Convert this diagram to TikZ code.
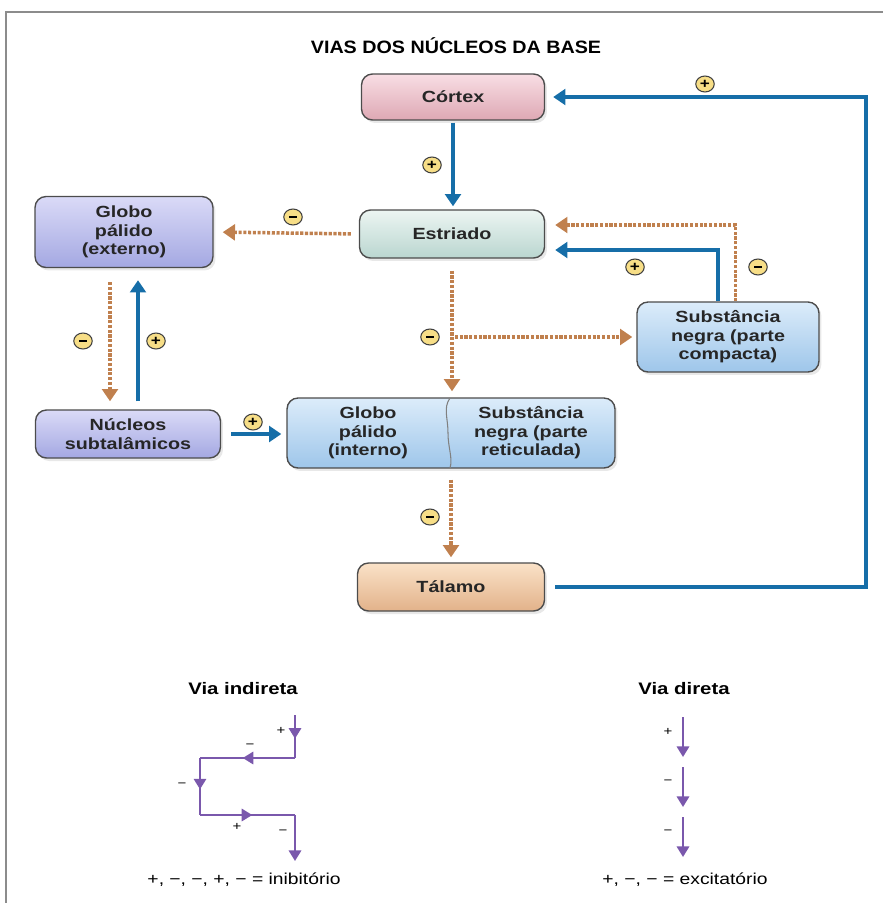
\documentclass[tikz,border=0pt]{standalone}
\usepackage{fontspec}
\setmainfont{Liberation Sans}[FakeStretch=1.22]
\newfontfamily\titlefont{Liberation Sans}[FakeStretch=1.1]
\usetikzlibrary{arrows.meta,calc,positioning,shapes.geometric,shadows,decorations.markings}

\definecolor{excblue}{RGB}{22,110,168}
\definecolor{inhorange}{RGB}{192,128,78}
\definecolor{legpurple}{RGB}{122,88,172}
\definecolor{signfill}{RGB}{247,222,135}
\definecolor{cortextop}{RGB}{248,222,228}
\definecolor{cortexbot}{RGB}{222,168,180}
\definecolor{striattop}{RGB}{236,245,242}
\definecolor{striatbot}{RGB}{186,214,208}
\definecolor{lilactop}{RGB}{218,218,247}
\definecolor{lilacbot}{RGB}{164,168,226}
\definecolor{skytop}{RGB}{220,236,250}
\definecolor{skybot}{RGB}{158,198,234}
\definecolor{thaltop}{RGB}{250,226,200}
\definecolor{thalbot}{RGB}{226,178,138}

\newcommand{\minusbar}{\rule{4.5pt}{1.2pt}}

\begin{document}
\begin{tikzpicture}[x=0.02cm,y=-0.02cm,
	% Styles
	box/.style={rectangle, rounded corners=2.2mm, draw=black!70, line width=0.8pt, align=center, text=black!85, font=\fontsize{9.2}{10.6}\selectfont\bfseries, drop shadow={opacity=0.18, shadow xshift=0.5mm, shadow yshift=-0.6mm}},
	cortexbox/.style={box, top color=cortextop, bottom color=cortexbot},
	striatbox/.style={box, top color=striattop, bottom color=striatbot},
	lilacbox/.style={box, top color=lilactop, bottom color=lilacbot},
	skybox/.style={box, top color=skytop, bottom color=skybot},
	thalbox/.style={box, top color=thaltop, bottom color=thalbot},
	boxtext/.style={align=center, text=black!85, font=\fontsize{9.2}{10.6}\selectfont\bfseries},
	sgn/.style={ellipse, draw=black!75, fill=signfill, line width=0.6pt, minimum width=0.37cm, minimum height=0.32cm, inner sep=0pt, font=\fontsize{8}{8}\selectfont\bfseries},
	exc/.style={draw=excblue, line width=2pt, -{Triangle[length=7pt,width=9pt]}},
	inh/.style={draw=inhorange, line width=2pt, dash pattern=on 1.8pt off 0.9pt, -{Triangle[length=7pt,width=9pt]}},
	leg/.style={draw=legpurple, line width=1.3pt},
	midarrow/.style={postaction={decorate}, decoration={markings, mark=at position 0.55 with {\arrow[legpurple]{Triangle[length=6pt,width=7pt]}}}},
	endarrow/.style={-{Triangle[length=6pt,width=7pt]}},
	lsign/.style={font=\fontsize{7}{7}\selectfont, inner sep=0pt},
	legtitle/.style={font=\fontsize{9.5}{11}\selectfont\bfseries},
	legtext/.style={font=\fontsize{9}{11}\selectfont}
	]
	\useasboundingbox (0,0) rectangle (883,903);
	\draw[black!45, line width=0.8pt] (6,903) -- (6,12) -- (883,12);

	% Nodes
	\node at (456,46)	(title)	[font=\titlefont\fontsize{10.2}{12}\selectfont\bfseries] {VIAS DOS NÚCLEOS DA BASE};
	\node at (453,97)	(cortex)	[cortexbox, minimum width=3.66cm, minimum height=0.92cm] {Córtex};
	\node at (452,234)	(striatum)	[striatbox, minimum width=3.7cm, minimum height=0.96cm] {Estriado};
	\node at (124,232)	(gpe)	[lilacbox, minimum width=3.56cm, minimum height=1.42cm] {Globo\\pálido\\(externo)};
	\node at (128,434)	(nst)	[lilacbox, minimum width=3.7cm, minimum height=0.96cm] {Núcleos\\subtalâmicos};
	\node at (451,433)	(gpisnr)	[skybox, minimum width=6.56cm, minimum height=1.4cm] {};
	\node at (368,433)	(gpi)	[boxtext] {Globo\\pálido\\(interno)};
	\node at (531,433)	(snr)	[boxtext] {Substância\\negra (parte\\reticulada)};
	\node at (728,337)	(snc)	[skybox, minimum width=3.64cm, minimum height=1.4cm] {Substância\\negra (parte\\compacta)};
	\node at (451,587)	(thal)	[thalbox, minimum width=3.74cm, minimum height=0.96cm] {Tálamo};
	\draw[black!50, line width=0.6pt] (450,398) .. controls (443,408) and (448,418) .. (448,433) .. controls (448,448) and (453,458) .. (450,468);
	\coordinate (loop) at (866,340);
	\coordinate (branch) at (455,337);

	% Connections
	\draw[exc, shorten <=0.04cm, shorten >=0.06cm] (cortex.south) -- (cortex.south |- striatum.north);
	\draw[exc, shorten <=0.2cm, shorten >=0.16cm] (thal.east) -- (thal.east -| loop) |- (cortex.east);
	\draw[inh, shorten <=0.16cm, shorten >=0.18cm] (striatum.west) -- (gpe.east);
	\draw[inh, shorten <=0.24cm, shorten >=0.12cm] (striatum.south) -- (striatum.south |- gpisnr.north);
	\draw[inh, shorten >=0.08cm] (branch) -- (snc.west);
	\draw[exc, shorten >=0.2cm] ([xshift=-0.2cm]snc.north) |- ([yshift=-0.32cm]striatum.east);
	\draw[inh, shorten >=0.2cm] ([xshift=0.15cm]snc.north) |- ([yshift=0.18cm]striatum.east);
	\draw[inh, shorten <=0.28cm, shorten >=0.16cm] ([xshift=-0.28cm]gpe.south) -- ([xshift=-0.28cm]gpe.south |- nst.north);
	\draw[exc, shorten <=0.16cm, shorten >=0.24cm] ([xshift=0.28cm]gpe.south |- nst.north) -- ([xshift=0.28cm]gpe.south);
	\draw[exc, shorten <=0.2cm, shorten >=0.1cm] (nst.east) -- (nst.east -| gpisnr.west);
	\draw[inh, shorten <=0.22cm, shorten >=0.1cm] (gpisnr.south) -- (thal.north);

	% Signs
	\node at (432,165)	(s1)	[sgn] {+};
	\node at (705,84)	(s2)	[sgn] {+};
	\node at (293,217)	(s3)	[sgn] {\minusbar};
	\node at (430,337)	(s4)	[sgn] {\minusbar};
	\node at (635,267)	(s5)	[sgn] {+};
	\node at (758,267)	(s6)	[sgn] {\minusbar};
	\node at (83,341)	(s7)	[sgn] {\minusbar};
	\node at (156,341)	(s8)	[sgn] {+};
	\node at (253,422)	(s9)	[sgn] {+};
	\node at (430,517)	(s10)	[sgn] {\minusbar};

	% Legend: via indireta
	\node at (243,689)	(indtitle)	[legtitle] {Via indireta};
	\coordinate (i1) at (295,715);
	\coordinate (i2) at (295,758);
	\coordinate (i3) at (200,758);
	\coordinate (i4) at (200,815);
	\coordinate (i5) at (295,815);
	\coordinate (i6) at (295,861);
	\draw[leg, midarrow] (i1) -- (i2);
	\draw[leg, midarrow] (i2) -- (i3);
	\draw[leg, midarrow] (i3) -- (i4);
	\draw[leg, midarrow] (i4) -- (i5);
	\draw[leg, endarrow] (i5) -- (i6);
	\node at (281,731)	(ia)	[lsign] {+};
	\node at (250,746)	(ib)	[lsign] {−};
	\node at (182,785)	(ic)	[lsign] {−};
	\node at (237,827)	(id)	[lsign] {+};
	\node at (283,832)	(ie)	[lsign] {−};
	\node at (244,880)	(indtext)	[legtext] {+, −, −, +, − = inibitório};

	% Legend: via direta
	\node at (684,689)	(dirtitle)	[legtitle] {Via direta};
	\coordinate (d1) at (683,717);
	\coordinate (d2) at (683,757);
	\coordinate (d3) at (683,767);
	\coordinate (d4) at (683,807);
	\coordinate (d5) at (683,817);
	\coordinate (d6) at (683,857);
	\draw[leg, endarrow] (d1) -- (d2);
	\draw[leg, endarrow] (d3) -- (d4);
	\draw[leg, endarrow] (d5) -- (d6);
	\node at (668,732)	(da)	[lsign] {+};
	\node at (668,782)	(db)	[lsign] {−};
	\node at (668,832)	(dc)	[lsign] {−};
	\node at (685,880)	(dirtext)	[legtext] {+, −, − = excitatório};

\end{tikzpicture}
\end{document}
